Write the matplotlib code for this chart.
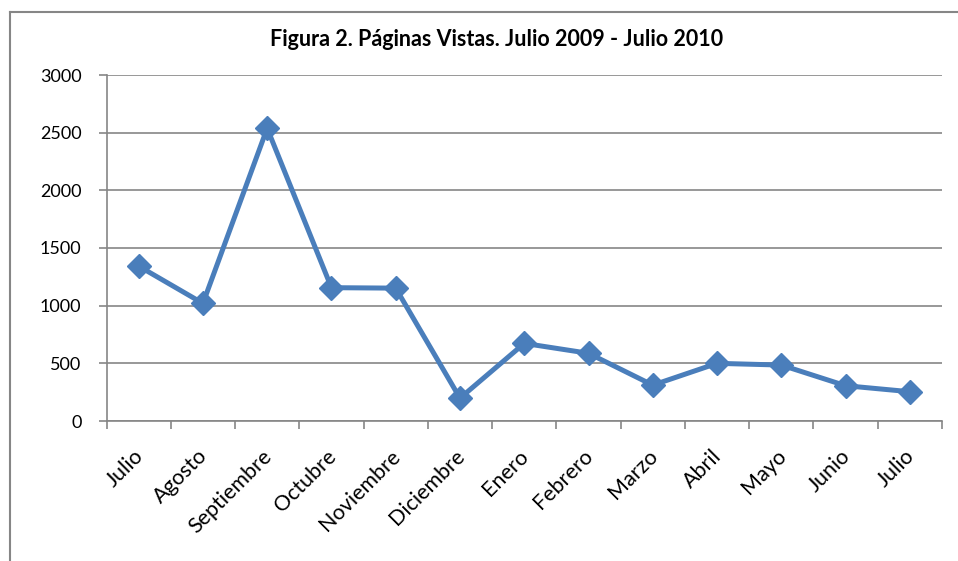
import numpy as np
import matplotlib
matplotlib.use("Agg")
import matplotlib.pyplot as plt
import matplotlib.transforms as mtransforms
from matplotlib.lines import Line2D

plt.rcParams['font.family'] = ['Lato', 'DejaVu Sans']

# datos
meses = ["Julio", "Agosto", "Septiembre", "Octubre", "Noviembre", "Diciembre",
         "Enero", "Febrero", "Marzo", "Abril", "Mayo", "Junio", "Julio"]
visitas = [1343, 1020, 2538, 1156, 1152, 198, 673, 587, 311, 500, 485, 306, 254]
yticks = [0, 500, 1000, 1500, 2000, 2500, 3000]

azul = "#4a7ebb"
gris = "#868686"

fig = plt.figure(figsize=(9.58, 5.61), dpi=100)
ax = fig.add_axes([106.5 / 958, 1 - 421 / 561, (942 - 106.5) / 958, (421 - 75) / 561])

x = np.arange(len(meses))
ax.plot(x, visitas, color=azul, lw=3.6, marker="D", ms=12.5, mfc=azul, mec=azul,
        solid_joinstyle="miter", zorder=3)

ax.set_ylim(0, 3000)
ax.set_xlim(-0.5, len(meses) - 0.5)
ax.set_yticks(yticks)
ax.yaxis.grid(True, color=gris, lw=1.2)
ax.set_axisbelow(True)

ax.set_xticks(x)
ax.set_xticklabels(meses, rotation=45, ha="right", va="center_baseline",
                   rotation_mode="anchor", fontsize=15.5)
desp = mtransforms.ScaledTranslation(4 / 100, 0, fig.dpi_scale_trans)
for lab in ax.get_xticklabels():
    lab.set_transform(lab.get_transform() + desp)
ax.set_xticks(np.arange(-0.5, len(meses)), minor=True)
ax.tick_params(axis="x", which="major", length=0, pad=22)
ax.tick_params(axis="x", which="minor", length=6, width=1.2, color=gris)
ax.tick_params(axis="y", length=6, width=1.2, color=gris, labelsize=13, pad=12)

for s in ["top", "right"]:
    ax.spines[s].set_visible(False)
for s in ["left", "bottom"]:
    ax.spines[s].set_color(gris)
    ax.spines[s].set_linewidth(1.2)

fig.text(497 / 958, 1 - 40 / 561, "Figura 2. Páginas Vistas. Julio 2009 - Julio 2010",
         ha="center", va="center", fontsize=15.5, fontweight="bold")

# borde del gráfico
fig.add_artist(Line2D([10 / 958, 10 / 958], [0, 1 - 11.5 / 561], transform=fig.transFigure,
                      color=gris, lw=1.5))
fig.add_artist(Line2D([10 / 958, 1], [1 - 11.5 / 561, 1 - 11.5 / 561], transform=fig.transFigure,
                      color=gris, lw=1.5))

fig.savefig("out.png", dpi=100)
